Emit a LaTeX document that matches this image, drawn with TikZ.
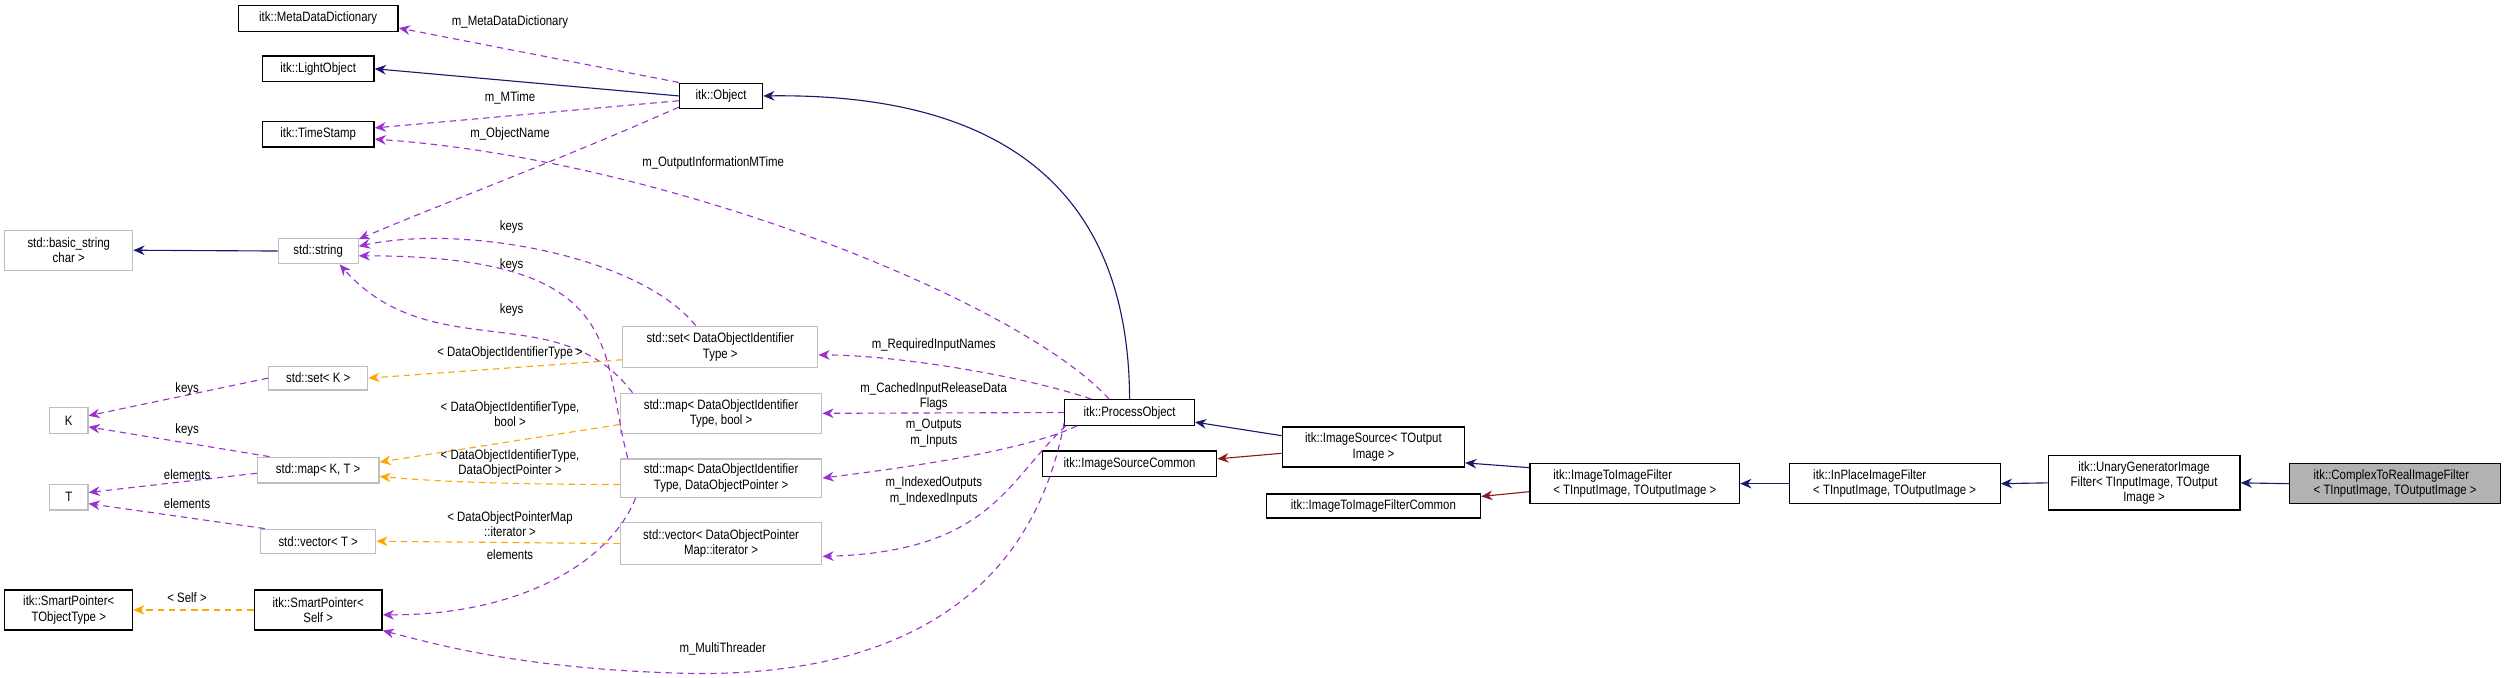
\documentclass[tikz,border=0pt]{standalone}
\usepackage{fontspec}
\setmainfont{Liberation Sans}[FakeStretch=0.84]
\usetikzlibrary{arrows.meta,calc}
\definecolor{inh}{HTML}{191970}
\definecolor{use}{HTML}{9A32CD}
\definecolor{tpl}{HTML}{FFA500}
\definecolor{prv}{HTML}{8B1A1A}
\begin{document}
\begin{tikzpicture}[x=1pt,y=-1pt,
  every node/.style={font=\fontsize{8.5}{9.6}\selectfont, inner sep=1pt},
  box/.style={draw=black, fill=white, line width=0.8pt, align=center},
  gbox/.style={draw=black!25, fill=white, line width=0.8pt, align=center},
  lbl/.style={align=center},
  tip/.style={-{Stealth[length=7pt,width=6pt]}},
  inhe/.style={tip, draw=inh, line width=0.7pt},
  usee/.style={tip, draw=use, line width=0.7pt, dash pattern=on 4pt off 3pt},
  tple/.style={tip, draw=tpl, line width=0.7pt, dash pattern=on 4pt off 3pt},
  prve/.style={tip, draw=prv, line width=0.7pt}]
\useasboundingbox (0,0) rectangle (1568,424);
% nodes
\node[box, minimum width=100pt, minimum height=16pt] (md) at (199,11.5) {itk::MetaDataDictionary};
\node[box, minimum width=70pt, minimum height=16pt] (lo) at (199,43) {itk::LightObject};
\node[box, minimum width=70pt, minimum height=16pt] (ts) at (199,84) {itk::TimeStamp};
\node[box, minimum width=52pt, minimum height=16pt] (obj) at (451,60) {itk::Object};
\node[gbox, minimum width=80pt, minimum height=25pt] (bs) at (43,156.5) {std::basic\_string\\char >};
\node[gbox, minimum width=50pt, minimum height=16pt] (str) at (199,157) {std::string};
\node[gbox, minimum width=122pt, minimum height=26pt] (setd) at (450.5,217) {std::set< DataObjectIdentifier\\Type >};
\node[gbox, minimum width=62pt, minimum height=15pt] (setk) at (199,236.5) {std::set< K >};
\node[gbox, minimum width=24pt, minimum height=16pt] (K) at (43,263) {K};
\node[gbox, minimum width=126pt, minimum height=25pt] (mapb) at (451,258.5) {std::map< DataObjectIdentifier\\Type, bool >};
\node[gbox, minimum width=76pt, minimum height=16pt] (mapkt) at (199,294) {std::map< K, T >};
\node[gbox, minimum width=24pt, minimum height=16pt] (T) at (43,311) {T};
\node[gbox, minimum width=126pt, minimum height=24pt] (mapd) at (451,299) {std::map< DataObjectIdentifier\\Type, DataObjectPointer >};
\node[gbox, minimum width=72pt, minimum height=15pt] (vect) at (199,338.5) {std::vector< T >};
\node[gbox, minimum width=126pt, minimum height=26pt] (vecd) at (451,340) {std::vector< DataObjectPointer\\Map::iterator >};
\node[box, minimum width=80pt, minimum height=25pt] (spt) at (43,381.5) {itk::SmartPointer<\\TObjectType >};
\node[box, minimum width=80pt, minimum height=25pt] (sps) at (199,381.5) {itk::SmartPointer<\\Self >};
\node[box, minimum width=81pt, minimum height=16pt] (po) at (706.5,258) {itk::ProcessObject};
\node[box, minimum width=114pt, minimum height=25pt] (is) at (859,279.5) {itk::ImageSource< TOutput\\Image >};
\node[box, minimum width=109pt, minimum height=16pt] (isc) at (706.5,290) {itk::ImageSourceCommon};
\node[box, minimum width=134pt, minimum height=15pt] (itifc) at (859,316.5) {itk::ImageToImageFilterCommon};
\node[box, minimum width=131pt, minimum height=25pt, align=left] (itif) at (1022.5,302.5) {itk::ImageToImageFilter\\< TInputImage, TOutputImage >};
\node[box, minimum width=132pt, minimum height=25pt, align=left] (inp) at (1185,302.5) {itk::InPlaceImageFilter\\< TInputImage, TOutputImage >};
\node[box, minimum width=120pt, minimum height=34pt] (una) at (1341,302) {itk::UnaryGeneratorImage\\Filter< TInputImage, TOutput\\Image >};
\node[box, fill=black!30, minimum width=132pt, minimum height=25pt, align=left] (c2r) at (1498,302.5) {itk::ComplexToRealImageFilter\\< TInputImage, TOutputImage >};
% inheritance
\draw[inhe] (po.north) .. controls (706,130) and (640,58) .. (obj.east);
\draw[inhe] (obj.west) -- (lo.east);
\draw[inhe] (str.west) -- (bs.east);
\draw[inhe] ($(is.west)+(0,-7)$) -- ($(po.east)+(0,6)$);
\draw[prve] ($(is.west)+(0,4)$) -- ($(isc.east)+(0,-3)$);
\draw[inhe] ($(itif.west)+(0,-10)$) -- ($(is.east)+(0,10)$);
\draw[prve] ($(itif.west)+(0,5)$) -- ($(itifc.east)+(0,-6)$);
\draw[inhe] (inp.west) -- (itif.east);
\draw[inhe] (una.west) -- (inp.east);
\draw[inhe] (c2r.west) -- (una.east);
% usage
\draw[usee] (obj.north west) -- ($(md.east)+(0,6)$);
\node[lbl] (l1) at (319,14) {m\_MetaDataDictionary};
\draw[usee] ($(obj.west)+(0,3)$) -- ($(ts.east)+(0,-4)$);
\node[lbl] (l2) at (319,61) {m\_MTime};
\draw[usee] ($(obj.west)+(0,7)$) .. controls (350,100) and (270,130) .. ($(str.north east)+(0,1)$);
\node[lbl] (l3) at (319,84) {m\_ObjectName};
\draw[usee] ($(po.north west)+(28,0)$) .. controls (640,190) and (420,100) .. ($(ts.east)+(0,3)$);
\node[lbl] (l4) at (446,102) {m\_OutputInformationMTime};
\draw[usee] ($(setd.north west)+(46,0)$) .. controls (400,160) and (290,140) .. ($(str.east)+(0,-3)$);
\node[lbl] (l5) at (320,142) {keys};
\draw[usee] ($(mapd.north west)+(5,0)$) .. controls (375,220) and (395,160) .. ($(str.east)+(0,3)$);
\node[lbl] (l6) at (320,166) {keys};
\draw[usee] ($(mapb.north west)+(8,0)$) .. controls (350,185) and (270,230) .. ($(str.south east)+(-12,0)$);
\node[lbl] (l7) at (320,194) {keys};
\draw[usee] (setk.west) -- ($(K.east)+(0,-3)$);
\node[lbl] (l8) at (117,243) {keys};
\draw[usee] ($(mapkt.north west)+(8,0)$) -- ($(K.east)+(0,4)$);
\node[lbl] (l9) at (117,269) {keys};
\draw[usee] ($(mapkt.west)+(0,2)$) -- ($(T.east)+(0,-3)$);
\node[lbl] (l10) at (117,297) {elements};
\draw[usee] ($(vect.north west)+(3,0)$) -- ($(T.east)+(0,4)$);
\node[lbl] (l11) at (117,315) {elements};
\draw[usee] ($(mapd.south west)+(10,0)$) .. controls (380,355) and (320,385) .. ($(sps.east)+(0,3)$);
\node[lbl] (l12) at (319,347) {elements};
\draw[usee] ($(po.south west)+(0,-2)$) .. controls (640,400) and (520,424) .. (424,421) .. controls (330,418) and (280,405) .. ($(sps.south east)+(0,0)$);
\node[lbl] (l13) at (452,406) {m\_MultiThreader};
\draw[usee] ($(po.north west)+(17,0)$) .. controls (640,235) and (560,222) .. ($(setd.east)+(0,5)$);
\node[lbl] (l14) at (584,216) {m\_RequiredInputNames};
\draw[usee] (po.west) -- (mapb.east);
\node[lbl] (l15) at (584,248) {m\_CachedInputReleaseData\\Flags};
\draw[usee] ($(po.south west)+(8,0)$) .. controls (640,282) and (570,292) .. (mapd.east);
\node[lbl] (l16) at (584,271) {m\_Outputs\\m\_Inputs};
\draw[usee] ($(po.south west)+(1,0)$) .. controls (630,300) and (620,345) .. ($(vecd.east)+(0,8)$);
\node[lbl] (l17) at (584,307) {m\_IndexedOutputs\\m\_IndexedInputs};
% templates
\draw[tple] ($(setd.west)+(0,8)$) -- (setk.east);
\node[lbl] (l18) at (319,221) {< DataObjectIdentifierType >};
\draw[tple] ($(mapb.west)+(0,7)$) -- ($(mapkt.east)+(0,-5)$);
\node[lbl] (l19) at (319,259) {< DataObjectIdentifierType,\\bool >};
\draw[tple] ($(mapd.west)+(0,4)$) .. controls (300,303) and (260,300) .. ($(mapkt.east)+(0,4)$);
\node[lbl] (l20) at (319,290) {< DataObjectIdentifierType,\\DataObjectPointer >};
\draw[tple] (vecd.west) -- (vect.east);
\node[lbl] (l21) at (319,328) {< DataObjectPointerMap\\::iterator >};
\draw[tple] (sps.west) -- (spt.east);
\node[lbl] (l22) at (117,374) {< Self >};
\end{tikzpicture}
\end{document}
